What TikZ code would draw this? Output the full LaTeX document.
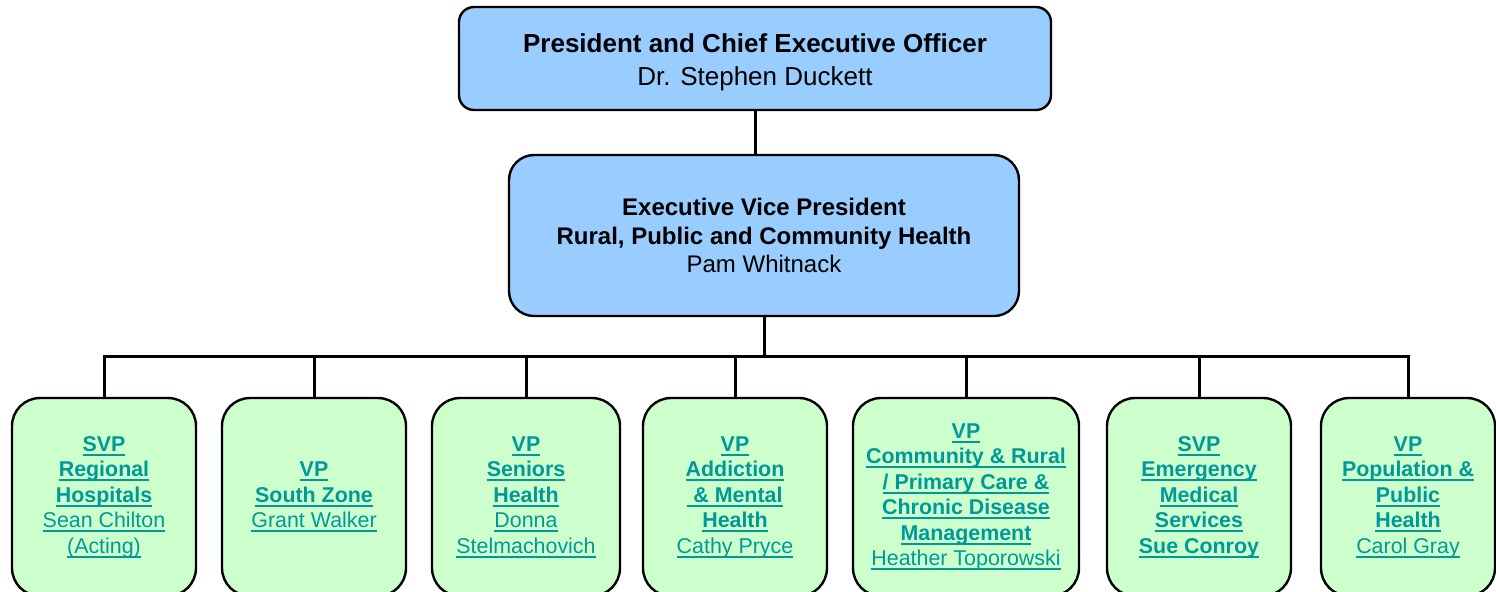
\documentclass[tikz,border=0pt]{standalone}
\usepackage{fontspec}
\setmainfont{Liberation Sans}
\usetikzlibrary{positioning}
\definecolor{topblue}{HTML}{99CCFF}
\definecolor{vpgreen}{HTML}{CCFFCC}
\definecolor{linkteal}{HTML}{009999}
\newcommand{\ulink}[1]{\setbox0\hbox{#1}\rlap{\vrule width\wd0 height -1.3pt depth 2.3pt}\box0}
\tikzstyle{line}=[draw,line width=1.5pt]
\tikzstyle{ceobox} =
  [rectangle, draw, line width=1.2pt, fill=topblue, align=center,
   rounded corners=7.5pt, minimum width=296pt, minimum height=51.5pt,
   font=\fontsize{13}{16.5}\selectfont]
\tikzstyle{evpbox} =
  [rectangle, draw, line width=1.2pt, fill=topblue, align=center,
   rounded corners=12.5pt, minimum width=255pt, minimum height=80.5pt,
   font=\fontsize{12}{14.25}\selectfont]
\tikzstyle{vpbox} =
  [rectangle, draw, line width=1.2pt, fill=vpgreen, align=center,
   rounded corners=14pt, minimum width=92pt, minimum height=99pt,
   text=linkteal, font=\fontsize{10.7}{12.75}\selectfont]

\begin{document}
\begin{tikzpicture}[x=0.5pt, y=-0.5pt]
  \clip (0,0) rectangle (1496,591);

  \node [ceobox] (ceo) at (755,58.5) {\rule{0pt}{13.5pt}\textbf{President and Chief Executive Officer}\\
  Dr. Stephen Duckett};
  \node [evpbox] (evp) at (764,235.5) {\textbf{Executive Vice President}\\
  \textbf{Rural, Public and Community Health}\\Pam Whitnack};
  \coordinate (bus) at (764,356);

  \node [vpbox] (v1) at (104,497) {\ulink{\textbf{SVP}}\\\ulink{\textbf{Regional}}\\
  \ulink{\textbf{Hospitals}}\\\ulink{Sean Chilton}\\\ulink{(Acting)}};
  \node [vpbox] (v2) at (314,497) {\ulink{\textbf{VP}}\\\ulink{\textbf{South Zone}}\\
  \ulink{Grant Walker}};
  \node [vpbox, minimum width=94pt] (v3) at (526,497) {\ulink{\textbf{VP}}\\
  \ulink{\textbf{Seniors}}\\\ulink{\textbf{Health}}\\\ulink{Donna}\\\ulink{Stelmachovich}};
  \node [vpbox] (v4) at (735,497) {\ulink{\textbf{VP}}\\\ulink{\textbf{Addiction}}\\
  \ulink{\textbf{\ \& Mental}}\\\ulink{\textbf{Health}}\\\ulink{Cathy Pryce}};
  \node [vpbox, minimum width=113pt] (v5) at (966,497) {\ulink{\textbf{VP}}\\
  \ulink{\textbf{Community \& Rural}}\\\ulink{\textbf{/ Primary Care \&}}\\
  \ulink{\textbf{Chronic Disease}}\\\ulink{\textbf{Management}}\\\ulink{Heather Toporowski}};
  \node [vpbox] (v6) at (1199,497) {\ulink{\textbf{SVP}}\\\ulink{\textbf{Emergency}}\\
  \ulink{\textbf{Medical}}\\\ulink{\textbf{Services}}\\\ulink{\textbf{Sue Conroy}}};
  \node [vpbox, minimum width=87pt] (v7) at (1408,497) {\ulink{\textbf{VP}}\\
  \ulink{\textbf{Population \&}}\\\ulink{\textbf{Public}}\\\ulink{\textbf{Health}}\\
  \ulink{Carol Gray}};

  \draw [line] (ceo.south) to (ceo.south |- evp.north);
  \draw [line] (evp.south) to (bus);
  \draw [line] (v1.north) -- (v1.north |- bus) -- (v7.north |- bus) -- (v7.north);
  \foreach \n in {2,...,6}
    \draw [line] (v\n.north) to (v\n.north |- bus);
\end{tikzpicture}
\end{document}
